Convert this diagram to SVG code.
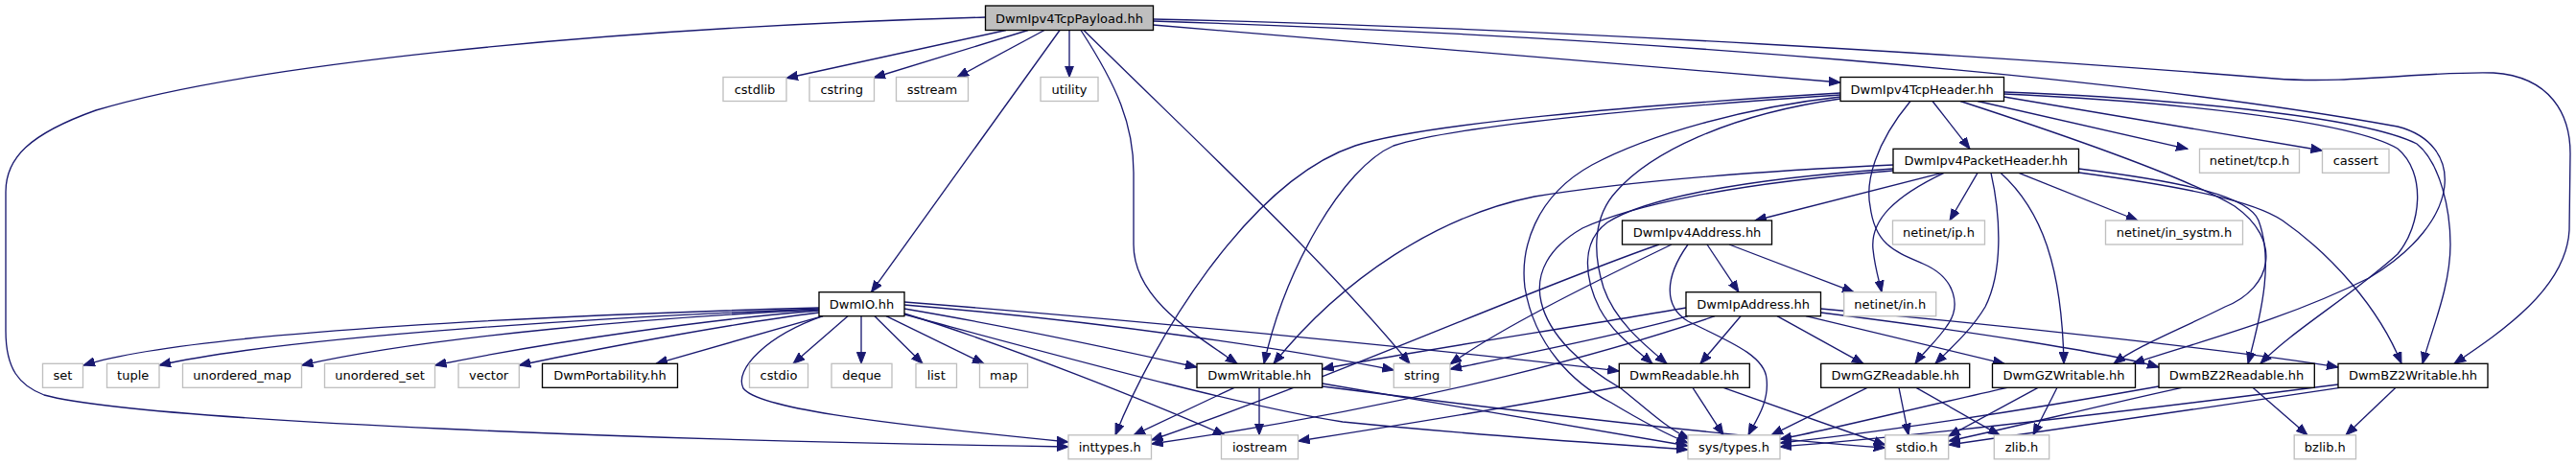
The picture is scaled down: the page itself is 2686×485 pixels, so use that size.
<svg xmlns="http://www.w3.org/2000/svg" width="2686" height="485" viewBox="0 0 2686 485">
<style>
.n rect{fill:#fff;stroke:#000;stroke-width:1.33}
.g rect{fill:#fff;stroke:#bfbfbf;stroke-width:1.33}
.root rect{fill:#bfbfbf;stroke:#000;stroke-width:1.33}
text{font-family:"DejaVu Sans","Liberation Sans",sans-serif;font-size:13px;fill:#000;text-anchor:middle}
#edges path{fill:none;stroke:#191970;stroke-width:1.33;marker-end:url(#ah)}
</style>
<defs>
<marker id="ah" markerUnits="userSpaceOnUse" markerWidth="13" markerHeight="10" refX="12" refY="5" orient="auto">
<path d="M0,0.4 L12,5 L0,9.6 z" fill="#191970" stroke="#191970" stroke-width="1"/>
</marker>
</defs>
<rect width="2686" height="485" fill="#fff"/>
<g id="edges">
<!-- Payload -->
<path d="M1027.5,18 C600,30 250,70 100,115 C30,140 6,165 6,200 L6,345 C6,385 20,402 46,412 C150,440 700,460 1114,466"/>
<path d="M1049,31.5 L820,81.5"/>
<path d="M1072,31.5 L911,81"/>
<path d="M1089,31.5 L998,80.5"/>
<path d="M1115,31.5 L1115,80.5"/>
<path d="M1105,31.5 L908.5,304.7"/>
<path d="M1127,31.5 C1165,90 1182,130 1182,180 L1182,255 C1182,310 1240,345 1290,379.3"/>
<path d="M1130,31.5 C1250,150 1380,270 1470,379.3"/>
<path d="M1202.5,26 L1919,86"/>
<path d="M1202.5,20 C1600,28 2100,60 2372,82 C2450,88 2530,74 2600,76 C2660,80 2680,120 2680,160 L2679,240 C2676,300 2610,345 2559,379.3"/>
<path d="M1202.5,22 C1700,38 2200,78 2500,132 C2570,150 2570,230 2470,290 C2380,335 2280,360 2224,379.3"/>
<!-- TcpHeader -->
<path d="M2015,105.5 L2054,155.3"/>
<path d="M1919,97 C1700,110 1480,130 1413,152 C1300,190 1200,360 1163,453.8"/>
<path d="M1919,99 C1750,110 1520,130 1453,152 C1400,175 1340,280 1318,379.3"/>
<path d="M1919,101 C1820,112 1720,140 1660,172 C1600,205 1585,260 1590,300 C1600,360 1640,400 1680,420 C1710,438 1735,452 1760,462"/>
<path d="M1919,103 C1800,120 1720,160 1685,200 C1662,225 1660,262 1672,300 C1684,335 1715,360 1738,379.3"/>
<path d="M1992,105.5 C1955,150 1945,190 1950,215 C1955,255 1975,262 2005,275 C2040,290 2045,320 2030,340 C2020,355 2005,368 1997,379.3"/>
<path d="M2062,105.5 L2281,155.3"/>
<path d="M2089.5,101 L2421.5,157"/>
<path d="M2044,105.5 C2150,140 2280,185 2330,215 C2380,250 2370,300 2320,320 C2270,345 2230,360 2204,379.3"/>
<path d="M2089.5,98 C2250,105 2450,125 2500,155 C2530,180 2525,235 2500,265 C2450,310 2390,345 2357,379.3"/>
<path d="M2089.5,96 C2250,102 2460,120 2520,150 C2545,170 2555,220 2555,255 C2555,300 2535,345 2526,379.3"/>
<!-- PacketHeader -->
<path d="M2025,180.3 L1830,230"/>
<path d="M2062,180.3 L2033,230"/>
<path d="M2027,180.3 C1975,205 1950,230 1953,260 C1955,280 1960,295 1962,304.7"/>
<path d="M2105,180.3 L2229,230"/>
<path d="M2076,180.3 C2085,220 2090,280 2070,320 C2055,345 2035,362 2018,379.3"/>
<path d="M2086,180.3 C2130,220 2150,280 2152,379.3"/>
<path d="M2167.5,176 C2280,190 2345,205 2355,230 C2370,270 2360,320 2344,379.3"/>
<path d="M2167.5,180 C2280,195 2350,210 2380,230 C2430,265 2480,320 2504,379.3"/>
<path d="M1974,172 C1800,180 1680,192 1600,205 C1500,225 1400,290 1328,379.3"/>
<path d="M1974,176 C1800,188 1710,210 1676,232 C1648,252 1652,290 1668,322 C1682,348 1705,364 1723,379.3"/>
<path d="M1974,178 C1800,192 1700,215 1650,238 C1615,258 1600,285 1607,315 C1615,350 1650,382 1690,405 C1715,425 1738,447 1762,458"/>
<!-- Ipv4Address -->
<path d="M1780,255 L1813,304.7"/>
<path d="M1803,255 L1933,304.7"/>
<path d="M1760,255 C1735,290 1735,320 1760,335 C1800,355 1840,370 1842,395 C1845,420 1830,440 1823,453.8"/>
<path d="M1730,255 C1600,300 1400,390 1200.5,459"/>
<path d="M1743,255 C1650,300 1560,345 1512,380"/>
<!-- IpAddress -->
<path d="M1758,321 C1650,340 1450,370 1378.7,385"/>
<path d="M1760,329.7 C1680,352 1560,375 1512,385"/>
<path d="M1788,329.7 C1700,360 1500,420 1200.5,463"/>
<path d="M1815,329.7 L1773,379.3"/>
<path d="M1853,329.7 L1943,379.3"/>
<path d="M1883,329.7 L2090,379.3"/>
<path d="M1898.5,326 C2050,345 2200,368 2251,383"/>
<path d="M1898.5,322 C2100,340 2350,368 2438,383"/>
<!-- DwmIO -->
<path d="M854,321 C600,328 200,345 87,381"/>
<path d="M854,322 C650,330 300,350 166,381"/>
<path d="M854,323 C700,330 450,350 314.5,381"/>
<path d="M854,324 C750,332 580,355 453.5,381"/>
<path d="M854,326 C780,335 640,360 541.3,381"/>
<path d="M858,329.7 L684,379.3"/>
<path d="M884,329.7 L827,379.3"/>
<path d="M898,329.7 L898,379.3"/>
<path d="M912,329.7 L962,379.3"/>
<path d="M924,329.7 L1026,379.3"/>
<path d="M943,322 C1050,340 1180,368 1248,383"/>
<path d="M943,318 C1150,335 1350,365 1453.3,386"/>
<path d="M943,315 C1200,335 1550,370 1688.3,387"/>
<path d="M943,327 C1050,360 1200,420 1277,453.8"/>
<path d="M943,328 C1100,370 1300,425 1400,440 C1550,455 1680,463 1760,469"/>
<path d="M858,329.7 C800,350 765,385 775,405 C790,425 900,440 1114,461"/>
<!-- DwmWritable -->
<path d="M1287,404.3 L1182,453.8"/>
<path d="M1313,404.3 L1313,453.8"/>
<path d="M1378.7,400 C1500,420 1650,447 1760,465"/>
<path d="M1378.7,403 C1550,425 1800,455 1965.7,467"/>
<!-- DwmReadable -->
<path d="M1690,403 C1600,420 1450,445 1353.5,460"/>
<path d="M1765,404.3 L1797,453.8"/>
<path d="M1797,404.3 L1965.7,464"/>
<!-- GZReadable -->
<path d="M1947,404.3 L1847,453.8"/>
<path d="M1980,404.3 L1990,453.8"/>
<path d="M1998,404.3 L2085,453.8"/>
<!-- GZWritable -->
<path d="M2093,404.3 C2000,425 1900,450 1856,458"/>
<path d="M2125,404.3 L2031.7,455"/>
<path d="M2145,404.3 L2120,453.8"/>
<!-- BZ2Readable -->
<path d="M2251,403 C2100,430 1950,452 1856,462"/>
<path d="M2275,404.3 C2180,425 2090,448 2031.7,460"/>
<path d="M2349,404.3 L2406,453.8"/>
<!-- BZ2Writable -->
<path d="M2438,401 C2250,425 2000,455 1856,466"/>
<path d="M2440,404.3 C2300,425 2120,452 2031.7,464"/>
<path d="M2498,404.3 L2446,453.8"/>
</g>
<g id="node-payload" class="root"><rect x="1027.5" y="6" width="175" height="25.5"/><text x="1115" y="23.5">DwmIpv4TcpPayload.hh</text></g>
<g id="node-cstdlib" class="g"><rect x="754" y="80.5" width="66" height="25"/><text x="787" y="97.5">cstdlib</text></g>
<g id="node-cstring" class="g"><rect x="844" y="80.5" width="67.5" height="25"/><text x="877.7" y="97.5">cstring</text></g>
<g id="node-sstream" class="g"><rect x="934.5" y="80.5" width="75" height="25"/><text x="972" y="97.5">sstream</text></g>
<g id="node-utility" class="g"><rect x="1085" y="80.5" width="60" height="25"/><text x="1115" y="97.5">utility</text></g>
<g id="node-tcpheader" class="n"><rect x="1919" y="80.5" width="170.5" height="25"/><text x="2004.2" y="97.5">DwmIpv4TcpHeader.hh</text></g>
<g id="node-packetheader" class="n"><rect x="1974" y="155.3" width="193.5" height="25"/><text x="2070.7" y="172.3">DwmIpv4PacketHeader.hh</text></g>
<g id="node-tcp" class="g"><rect x="2293.5" y="155.3" width="104" height="25"/><text x="2345.5" y="172.3">netinet/tcp.h</text></g>
<g id="node-cassert" class="g"><rect x="2421.5" y="155.3" width="69.5" height="25"/><text x="2456.2" y="172.3">cassert</text></g>
<g id="node-ipv4address" class="n"><rect x="1691.5" y="230" width="156" height="25"/><text x="1769.5" y="247">DwmIpv4Address.hh</text></g>
<g id="node-ip" class="g"><rect x="1973.5" y="230" width="96" height="25"/><text x="2021.5" y="247">netinet/ip.h</text></g>
<g id="node-insystm" class="g"><rect x="2195.5" y="230" width="143" height="25"/><text x="2267" y="247">netinet/in_systm.h</text></g>
<g id="node-dwmio" class="n"><rect x="854" y="304.7" width="89" height="25"/><text x="898.5" y="321.7">DwmIO.hh</text></g>
<g id="node-ipaddress" class="n"><rect x="1758" y="304.7" width="140.5" height="25"/><text x="1828.2" y="321.7">DwmIpAddress.hh</text></g>
<g id="node-in" class="g"><rect x="1922.7" y="304.7" width="96" height="25"/><text x="1970.7" y="321.7">netinet/in.h</text></g>
<g id="node-set" class="g"><rect x="44.5" y="379.3" width="42" height="25"/><text x="65.5" y="396.3">set</text></g>
<g id="node-tuple" class="g"><rect x="111.5" y="379.3" width="54.5" height="25"/><text x="138.7" y="396.3">tuple</text></g>
<g id="node-umap" class="g"><rect x="190.5" y="379.3" width="124" height="25"/><text x="252.5" y="396.3">unordered_map</text></g>
<g id="node-uset" class="g"><rect x="338.5" y="379.3" width="115" height="25"/><text x="396" y="396.3">unordered_set</text></g>
<g id="node-vector" class="g"><rect x="478" y="379.3" width="63.3" height="25"/><text x="509.6" y="396.3">vector</text></g>
<g id="node-portability" class="n"><rect x="565.5" y="379.3" width="141" height="25"/><text x="636" y="396.3">DwmPortability.hh</text></g>
<g id="node-cstdio" class="g"><rect x="781.5" y="379.3" width="61" height="25"/><text x="812" y="396.3">cstdio</text></g>
<g id="node-deque" class="g"><rect x="867" y="379.3" width="63" height="25"/><text x="898.5" y="396.3">deque</text></g>
<g id="node-list" class="g"><rect x="955" y="379.3" width="42.5" height="25"/><text x="976.2" y="396.3">list</text></g>
<g id="node-map" class="g"><rect x="1021.5" y="379.3" width="50" height="25"/><text x="1046.5" y="396.3">map</text></g>
<g id="node-writable" class="n"><rect x="1248" y="379.3" width="130.7" height="25"/><text x="1313.3" y="396.3">DwmWritable.hh</text></g>
<g id="node-string" class="g"><rect x="1453.3" y="379.3" width="58.7" height="25"/><text x="1482.6" y="396.3">string</text></g>
<g id="node-readable" class="n"><rect x="1688.3" y="379.3" width="136" height="25"/><text x="1756.3" y="396.3">DwmReadable.hh</text></g>
<g id="node-gzreadable" class="n"><rect x="1898.7" y="379.3" width="155" height="25"/><text x="1976.2" y="396.3">DwmGZReadable.hh</text></g>
<g id="node-gzwritable" class="n"><rect x="2077.5" y="379.3" width="149" height="25"/><text x="2152" y="396.3">DwmGZWritable.hh</text></g>
<g id="node-bz2readable" class="n"><rect x="2251" y="379.3" width="162.3" height="25"/><text x="2332.1" y="396.3">DwmBZ2Readable.hh</text></g>
<g id="node-bz2writable" class="n"><rect x="2438" y="379.3" width="156" height="25"/><text x="2516" y="396.3">DwmBZ2Writable.hh</text></g>
<g id="node-inttypes" class="g"><rect x="1114" y="453.8" width="86.5" height="25"/><text x="1157.2" y="470.8">inttypes.h</text></g>
<g id="node-iostream" class="g"><rect x="1273.5" y="453.8" width="80" height="25"/><text x="1313.5" y="470.8">iostream</text></g>
<g id="node-systypes" class="g"><rect x="1760" y="453.8" width="96" height="25"/><text x="1808" y="470.8">sys/types.h</text></g>
<g id="node-stdio" class="g"><rect x="1965.7" y="453.8" width="66" height="25"/><text x="1998.7" y="470.8">stdio.h</text></g>
<g id="node-zlib" class="g"><rect x="2079.3" y="453.8" width="57.4" height="25"/><text x="2108" y="470.8">zlib.h</text></g>
<g id="node-bzlib" class="g"><rect x="2392.2" y="453.8" width="64.3" height="25"/><text x="2424.3" y="470.8">bzlib.h</text></g>
</svg>
